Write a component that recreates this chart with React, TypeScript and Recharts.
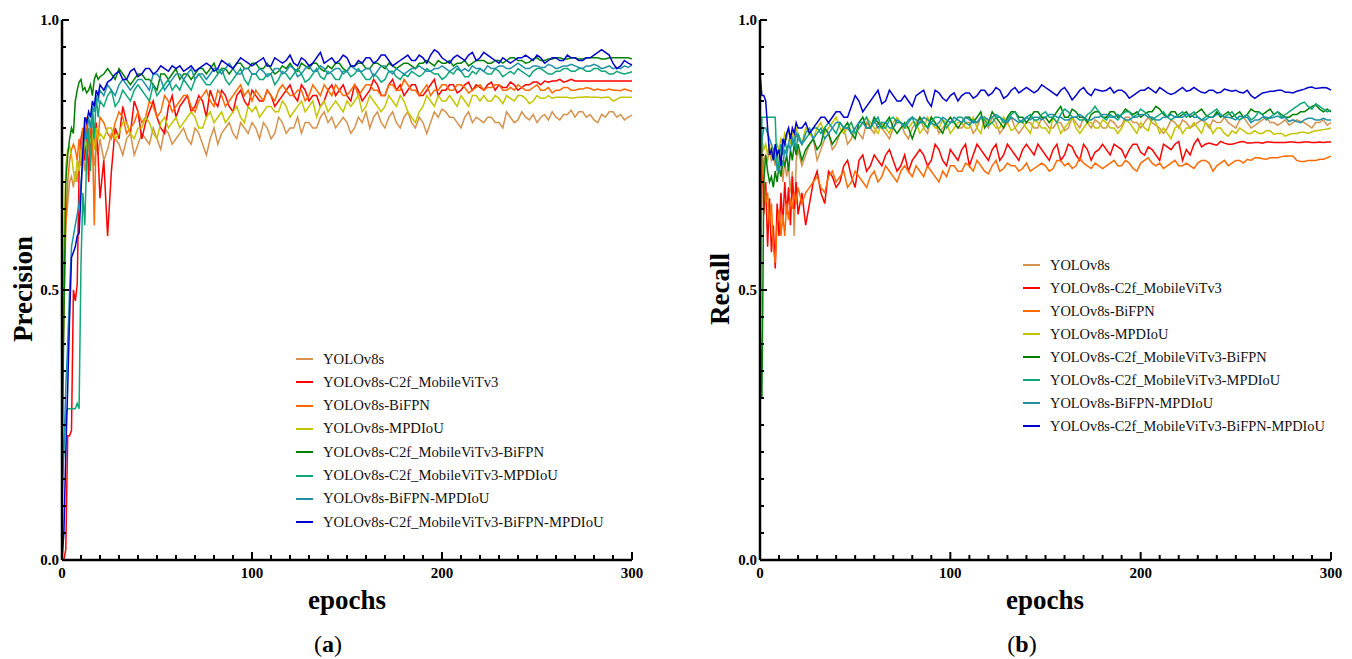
import { LineChart, Line, XAxis, YAxis } from "recharts";

const SERIF = "'Liberation Serif', 'Times New Roman', serif";

const epochs = [
  0, 1, 2, 3, 4, 5, 6, 7, 8, 9, 10, 11, 12, 13, 14, 15, 16, 17, 18, 19, 20,
  22, 24, 26, 28, 30, 32, 34, 36, 38, 40,
  42, 44, 46, 48, 50, 52, 54, 56, 58, 60,
  62, 64, 66, 68, 70, 72, 74, 76, 78, 80,
  82, 84, 86, 88, 90, 92, 94, 96, 98, 100,
  102, 104, 106, 108, 110, 112, 114, 116, 118, 120,
  122, 124, 126, 128, 130, 132, 134, 136, 138, 140,
  142, 144, 146, 148, 150, 152, 154, 156, 158, 160,
  162, 164, 166, 168, 170, 172, 174, 176, 178, 180,
  182, 184, 186, 188, 190, 192, 194, 196, 198, 200,
  202, 204, 206, 208, 210, 212, 214, 216, 218, 220,
  222, 224, 226, 228, 230, 232, 234, 236, 238, 240,
  242, 244, 246, 248, 250, 252, 254, 256, 258, 260,
  262, 264, 266, 268, 270, 272, 274, 276, 278, 280,
  282, 284, 286, 288, 290, 292, 294, 296, 298, 300,
];

const names = [
  "YOLOv8s",
  "YOLOv8s-C2f_MobileViTv3",
  "YOLOv8s-BiFPN",
  "YOLOv8s-MPDIoU",
  "YOLOv8s-C2f_MobileViTv3-BiFPN",
  "YOLOv8s-C2f_MobileViTv3-MPDIoU",
  "YOLOv8s-BiFPN-MPDIoU",
  "YOLOv8s-C2f_MobileViTv3-BiFPN-MPDIoU",
];

const colors = ["#d4924e", "#ff0000", "#ff6a00", "#c4c400", "#008000", "#10a67a", "#2090a8", "#0000cc"];

// precision (a)
const pV8s = [
  0.38, 0.55, 0.62, 0.66, 0.70, 0.71, 0.69, 0.72, 0.70, 0.74, 0.73, 0.76, 0.72, 0.75, 0.77, 0.74, 0.76, 0.73, 0.77, 0.75, 0.78,
  0.74, 0.76, 0.79, 0.78, 0.77, 0.75, 0.78, 0.79, 0.75, 0.77,
  0.79, 0.78, 0.77, 0.80, 0.78, 0.76, 0.80, 0.79, 0.77, 0.78,
  0.79, 0.80, 0.78, 0.77, 0.80, 0.79, 0.77, 0.75, 0.78, 0.80,
  0.77, 0.79, 0.80, 0.81, 0.79, 0.78, 0.81, 0.80, 0.79, 0.81,
  0.80, 0.78, 0.81, 0.80, 0.78, 0.79, 0.82, 0.81, 0.79, 0.80,
  0.80, 0.82, 0.79, 0.81, 0.81, 0.80, 0.80, 0.82, 0.83, 0.81,
  0.82, 0.80, 0.81, 0.82, 0.81, 0.79, 0.80, 0.82, 0.81, 0.83,
  0.80, 0.82, 0.83, 0.81, 0.80, 0.82, 0.83, 0.81, 0.80, 0.82,
  0.83, 0.81, 0.80, 0.82, 0.81, 0.79, 0.81, 0.83, 0.82, 0.835,
  0.83, 0.82, 0.82, 0.81, 0.80, 0.82, 0.83, 0.81, 0.82, 0.815,
  0.81, 0.82, 0.82, 0.81, 0.81, 0.80, 0.83, 0.82, 0.81, 0.815,
  0.83, 0.82, 0.815, 0.825, 0.81, 0.82, 0.825, 0.815, 0.83, 0.82,
  0.815, 0.825, 0.825, 0.833, 0.82, 0.83, 0.83, 0.82, 0.825, 0.815,
  0.81, 0.825, 0.82, 0.83, 0.83, 0.82, 0.825, 0.815, 0.82, 0.824,
];
const pC2f = [
  0, 0, 0.02, 0.23, 0.23, 0.24, 0.50, 0.48, 0.51, 0.72, 0.78, 0.80, 0.74, 0.82, 0.70, 0.79, 0.83, 0.77, 0.81, 0.75, 0.67,
  0.74, 0.60, 0.72, 0.80, 0.78, 0.84, 0.81, 0.79, 0.85, 0.83,
  0.78, 0.81, 0.83, 0.85, 0.82, 0.80, 0.79, 0.84, 0.86, 0.82,
  0.84, 0.85, 0.86, 0.83, 0.84, 0.86, 0.85, 0.82, 0.87, 0.85,
  0.84, 0.87, 0.86, 0.84, 0.83, 0.86, 0.87, 0.85, 0.84, 0.87,
  0.86, 0.85, 0.85, 0.87, 0.86, 0.84, 0.85, 0.86, 0.87, 0.88,
  0.86, 0.85, 0.88, 0.87, 0.85, 0.86, 0.86, 0.84, 0.85, 0.87,
  0.88, 0.86, 0.87, 0.88, 0.86, 0.85, 0.88, 0.87, 0.85, 0.86,
  0.87, 0.89, 0.88, 0.86, 0.86, 0.88, 0.89, 0.87, 0.88, 0.86,
  0.87, 0.88, 0.88, 0.86, 0.86, 0.87, 0.88, 0.89, 0.86, 0.87,
  0.87, 0.88, 0.88, 0.865, 0.87, 0.88, 0.885, 0.87, 0.88, 0.875,
  0.87, 0.88, 0.885, 0.87, 0.88, 0.875, 0.875, 0.885, 0.88, 0.87,
  0.875, 0.88, 0.88, 0.885, 0.885, 0.88, 0.887, 0.885, 0.887, 0.887,
  0.89, 0.885, 0.887, 0.89, 0.887, 0.887, 0.887, 0.887, 0.887, 0.887,
  0.887, 0.887, 0.887, 0.887, 0.887, 0.887, 0.887, 0.887, 0.887, 0.887,
];
const pBi = [
  0.30, 0.45, 0.62, 0.70, 0.74, 0.76, 0.77, 0.76, 0.74, 0.78, 0.75, 0.80, 0.78, 0.82, 0.76, 0.81, 0.79, 0.62, 0.80, 0.78, 0.82,
  0.81, 0.79, 0.78, 0.81, 0.83, 0.82, 0.79, 0.80, 0.81, 0.83,
  0.81, 0.82, 0.85, 0.84, 0.82, 0.83, 0.86, 0.85, 0.83, 0.84,
  0.85, 0.86, 0.86, 0.84, 0.83, 0.85, 0.86, 0.87, 0.85, 0.84,
  0.87, 0.86, 0.84, 0.85, 0.86, 0.87, 0.88, 0.86, 0.87, 0.85,
  0.87, 0.86, 0.85, 0.87, 0.86, 0.85, 0.87, 0.88, 0.87, 0.86,
  0.86, 0.87, 0.87, 0.85, 0.86, 0.88, 0.87, 0.86, 0.88, 0.87,
  0.86, 0.88, 0.87, 0.86, 0.86, 0.87, 0.88, 0.86, 0.87, 0.88,
  0.88, 0.87, 0.87, 0.86, 0.86, 0.88, 0.88, 0.87, 0.87, 0.89,
  0.88, 0.87, 0.87, 0.86, 0.87, 0.88, 0.86, 0.87, 0.87, 0.88,
  0.88, 0.87, 0.87, 0.88, 0.88, 0.875, 0.865, 0.87, 0.875, 0.88,
  0.87, 0.875, 0.875, 0.88, 0.88, 0.87, 0.87, 0.875, 0.87, 0.88,
  0.875, 0.87, 0.87, 0.875, 0.88, 0.87, 0.87, 0.875, 0.865, 0.87,
  0.87, 0.875, 0.875, 0.87, 0.87, 0.872, 0.872, 0.875, 0.873, 0.87,
  0.872, 0.87, 0.87, 0.872, 0.87, 0.87, 0.869, 0.872, 0.87, 0.868,
];
const pMpd = [
  0.35, 0.56, 0.73, 0.76, 0.765, 0.75, 0.72, 0.70, 0.74, 0.72, 0.76, 0.74, 0.78, 0.76, 0.80, 0.77, 0.79, 0.76, 0.80, 0.78, 0.79,
  0.78, 0.80, 0.80, 0.78, 0.79, 0.81, 0.81, 0.79, 0.78, 0.80,
  0.80, 0.82, 0.81, 0.79, 0.78, 0.81, 0.82, 0.80, 0.81, 0.82,
  0.80, 0.81, 0.82, 0.83, 0.82, 0.80, 0.80, 0.82, 0.83, 0.81,
  0.82, 0.83, 0.81, 0.82, 0.83, 0.84, 0.82, 0.81, 0.84, 0.83,
  0.84, 0.82, 0.83, 0.84, 0.84, 0.83, 0.83, 0.85, 0.84, 0.82,
  0.83, 0.84, 0.85, 0.83, 0.84, 0.85, 0.82, 0.84, 0.85, 0.83,
  0.84, 0.85, 0.84, 0.83, 0.85, 0.84, 0.85, 0.86, 0.83, 0.84,
  0.86, 0.85, 0.84, 0.83, 0.84, 0.86, 0.85, 0.84, 0.86, 0.85,
  0.83, 0.82, 0.81, 0.83, 0.84, 0.86, 0.85, 0.84, 0.86, 0.85,
  0.85, 0.86, 0.85, 0.84, 0.86, 0.85, 0.84, 0.86, 0.86, 0.85,
  0.86, 0.85, 0.85, 0.86, 0.855, 0.845, 0.86, 0.855, 0.85, 0.86,
  0.86, 0.855, 0.845, 0.85, 0.86, 0.855, 0.855, 0.86, 0.855, 0.857,
  0.857, 0.857, 0.857, 0.855, 0.856, 0.857, 0.857, 0.858, 0.857, 0.857,
  0.857, 0.856, 0.857, 0.857, 0.85, 0.853, 0.857, 0.857, 0.857, 0.857,
];
const pC2fBi = [
  0.17, 0.45, 0.70, 0.75, 0.78, 0.80, 0.79, 0.85, 0.87, 0.885, 0.89, 0.87, 0.875, 0.865, 0.87, 0.88, 0.86, 0.89, 0.90, 0.89, 0.895,
  0.90, 0.91, 0.90, 0.89, 0.91, 0.90, 0.89, 0.88, 0.89, 0.90,
  0.90, 0.89, 0.89, 0.88, 0.87, 0.90, 0.90, 0.89, 0.90, 0.91,
  0.89, 0.90, 0.90, 0.89, 0.90, 0.91, 0.91, 0.90, 0.91, 0.92,
  0.90, 0.91, 0.91, 0.90, 0.91, 0.92, 0.92, 0.91, 0.91, 0.92,
  0.92, 0.91, 0.91, 0.92, 0.91, 0.90, 0.905, 0.915, 0.91, 0.92,
  0.91, 0.905, 0.92, 0.915, 0.91, 0.92, 0.92, 0.91, 0.905, 0.915,
  0.91, 0.92, 0.92, 0.91, 0.905, 0.915, 0.915, 0.92, 0.92, 0.91,
  0.91, 0.92, 0.92, 0.915, 0.91, 0.92, 0.915, 0.91, 0.915, 0.92,
  0.92, 0.915, 0.91, 0.92, 0.92, 0.925, 0.92, 0.915, 0.925, 0.92,
  0.92, 0.925, 0.915, 0.92, 0.92, 0.925, 0.915, 0.92, 0.925, 0.925,
  0.925, 0.92, 0.92, 0.925, 0.925, 0.92, 0.925, 0.93, 0.93, 0.925,
  0.925, 0.92, 0.922, 0.928, 0.93, 0.925, 0.925, 0.928, 0.928, 0.93,
  0.93, 0.928, 0.928, 0.93, 0.93, 0.928, 0.928, 0.93, 0.93, 0.93,
  0.93, 0.928, 0.928, 0.93, 0.93, 0.93, 0.93, 0.93, 0.93, 0.928,
];
const pC2fMpd = [
  0.10, 0.22, 0.27, 0.28, 0.28, 0.28, 0.28, 0.28, 0.29, 0.28, 0.55, 0.68, 0.62, 0.75, 0.80, 0.72, 0.84, 0.78, 0.86, 0.82, 0.85,
  0.84, 0.86, 0.87, 0.84, 0.85, 0.87, 0.86, 0.85, 0.87, 0.88,
  0.87, 0.86, 0.85, 0.88, 0.86, 0.87, 0.88, 0.89, 0.87, 0.88,
  0.87, 0.89, 0.88, 0.87, 0.89, 0.90, 0.89, 0.88, 0.88, 0.89,
  0.90, 0.91, 0.89, 0.88, 0.89, 0.90, 0.91, 0.89, 0.88, 0.90,
  0.90, 0.89, 0.89, 0.90, 0.90, 0.88, 0.89, 0.905, 0.90, 0.89,
  0.90, 0.91, 0.90, 0.885, 0.89, 0.90, 0.91, 0.895, 0.89, 0.905,
  0.90, 0.89, 0.89, 0.905, 0.905, 0.895, 0.90, 0.91, 0.90, 0.89,
  0.89, 0.90, 0.895, 0.885, 0.89, 0.905, 0.905, 0.895, 0.89, 0.90,
  0.895, 0.905, 0.90, 0.895, 0.90, 0.91, 0.905, 0.90, 0.90, 0.89,
  0.895, 0.905, 0.90, 0.91, 0.905, 0.895, 0.895, 0.905, 0.90, 0.91,
  0.905, 0.90, 0.90, 0.91, 0.905, 0.895, 0.90, 0.905, 0.90, 0.91,
  0.905, 0.90, 0.895, 0.905, 0.91, 0.91, 0.905, 0.90, 0.90, 0.905,
  0.905, 0.91, 0.91, 0.905, 0.905, 0.91, 0.91, 0.905, 0.905, 0.91,
  0.91, 0.905, 0.905, 0.90, 0.90, 0.905, 0.902, 0.90, 0.902, 0.904,
];
const pBiMpd = [
  0.15, 0.20, 0.32, 0.40, 0.50, 0.58, 0.60, 0.62, 0.64, 0.66, 0.70, 0.74, 0.80, 0.78, 0.82, 0.80, 0.84, 0.83, 0.86, 0.85, 0.87,
  0.86, 0.88, 0.87, 0.86, 0.88, 0.89, 0.88, 0.87, 0.88, 0.89,
  0.89, 0.88, 0.87, 0.90, 0.90, 0.89, 0.87, 0.88, 0.89, 0.90,
  0.90, 0.89, 0.90, 0.91, 0.89, 0.90, 0.90, 0.89, 0.90, 0.91,
  0.91, 0.90, 0.91, 0.92, 0.91, 0.90, 0.90, 0.91, 0.91, 0.90,
  0.90, 0.91, 0.905, 0.895, 0.90, 0.91, 0.91, 0.90, 0.905, 0.915,
  0.91, 0.895, 0.90, 0.91, 0.915, 0.905, 0.905, 0.915, 0.91, 0.90,
  0.905, 0.91, 0.91, 0.90, 0.905, 0.915, 0.91, 0.905, 0.905, 0.91,
  0.91, 0.895, 0.905, 0.915, 0.915, 0.905, 0.90, 0.91, 0.905, 0.90,
  0.905, 0.91, 0.91, 0.915, 0.91, 0.905, 0.905, 0.91, 0.91, 0.915,
  0.91, 0.905, 0.91, 0.915, 0.905, 0.91, 0.905, 0.915, 0.91, 0.91,
  0.905, 0.915, 0.91, 0.91, 0.915, 0.915, 0.91, 0.91, 0.915, 0.92,
  0.915, 0.91, 0.91, 0.915, 0.915, 0.912, 0.912, 0.918, 0.915, 0.91,
  0.912, 0.915, 0.915, 0.918, 0.915, 0.912, 0.91, 0.915, 0.915, 0.918,
  0.915, 0.91, 0.912, 0.915, 0.91, 0.912, 0.91, 0.915, 0.912, 0.917,
];
const pFull = [
  0, 0.05, 0.20, 0.32, 0.45, 0.56, 0.57, 0.58, 0.60, 0.605, 0.68, 0.76, 0.82, 0.81, 0.83, 0.82, 0.85, 0.84, 0.87, 0.86, 0.88,
  0.87, 0.885, 0.89, 0.90, 0.905, 0.89, 0.89, 0.905, 0.91, 0.895,
  0.90, 0.91, 0.91, 0.90, 0.905, 0.915, 0.91, 0.905, 0.915, 0.91,
  0.915, 0.905, 0.91, 0.915, 0.905, 0.91, 0.915, 0.92, 0.915, 0.905,
  0.91, 0.925, 0.92, 0.915, 0.91, 0.92, 0.93, 0.925, 0.92, 0.915,
  0.92, 0.925, 0.93, 0.915, 0.915, 0.93, 0.925, 0.92, 0.925, 0.935,
  0.92, 0.915, 0.93, 0.925, 0.915, 0.92, 0.93, 0.94, 0.92, 0.925,
  0.93, 0.92, 0.925, 0.935, 0.93, 0.915, 0.915, 0.925, 0.92, 0.93,
  0.93, 0.92, 0.925, 0.935, 0.935, 0.925, 0.915, 0.92, 0.925, 0.93,
  0.935, 0.925, 0.925, 0.935, 0.93, 0.92, 0.935, 0.945, 0.94, 0.93,
  0.925, 0.92, 0.93, 0.935, 0.93, 0.925, 0.935, 0.94, 0.925, 0.93,
  0.94, 0.935, 0.93, 0.925, 0.92, 0.93, 0.925, 0.92, 0.925, 0.93,
  0.93, 0.935, 0.93, 0.925, 0.935, 0.93, 0.92, 0.925, 0.93, 0.93,
  0.925, 0.925, 0.935, 0.93, 0.93, 0.925, 0.925, 0.93, 0.93, 0.935,
  0.94, 0.945, 0.94, 0.935, 0.92, 0.91, 0.915, 0.925, 0.92, 0.917,
];

// recall (b)
const rV8s = [
  0.66, 0.70, 0.74, 0.75, 0.74, 0.76, 0.74, 0.75, 0.73, 0.76, 0.72, 0.75, 0.70, 0.74, 0.71, 0.73, 0.68, 0.72, 0.60, 0.74, 0.76,
  0.73, 0.75, 0.77, 0.78, 0.74, 0.76, 0.78, 0.79, 0.76, 0.77,
  0.79, 0.80, 0.77, 0.78, 0.80, 0.79, 0.78, 0.81, 0.80, 0.79,
  0.81, 0.80, 0.79, 0.78, 0.80, 0.81, 0.81, 0.79, 0.78, 0.80,
  0.81, 0.82, 0.80, 0.79, 0.82, 0.81, 0.79, 0.80, 0.81, 0.82,
  0.81, 0.80, 0.80, 0.81, 0.81, 0.79, 0.80, 0.82, 0.81, 0.80,
  0.82, 0.81, 0.79, 0.80, 0.81, 0.82, 0.80, 0.79, 0.80, 0.81,
  0.81, 0.80, 0.80, 0.82, 0.81, 0.80, 0.80, 0.81, 0.81, 0.795,
  0.80, 0.82, 0.81, 0.80, 0.82, 0.81, 0.80, 0.815, 0.81, 0.80,
  0.80, 0.815, 0.81, 0.80, 0.805, 0.82, 0.82, 0.81, 0.81, 0.80,
  0.81, 0.82, 0.81, 0.805, 0.80, 0.79, 0.80, 0.815, 0.81, 0.80,
  0.815, 0.81, 0.80, 0.805, 0.81, 0.815, 0.81, 0.80, 0.815, 0.81,
  0.81, 0.82, 0.81, 0.805, 0.80, 0.815, 0.82, 0.81, 0.80, 0.805,
  0.81, 0.815, 0.82, 0.81, 0.81, 0.805, 0.81, 0.815, 0.805, 0.81,
  0.815, 0.812, 0.81, 0.805, 0.80, 0.81, 0.81, 0.815, 0.805, 0.81,
];
const rC2f = [
  0.50, 0.79, 0.64, 0.70, 0.58, 0.67, 0.57, 0.62, 0.54, 0.66, 0.60, 0.68, 0.62, 0.70, 0.64, 0.69, 0.62, 0.71, 0.65, 0.70, 0.64,
  0.68, 0.62, 0.66, 0.70, 0.72, 0.68, 0.66, 0.72, 0.71, 0.69,
  0.70, 0.73, 0.74, 0.71, 0.69, 0.74, 0.75, 0.72, 0.73, 0.75,
  0.74, 0.73, 0.75, 0.76, 0.74, 0.72, 0.73, 0.75, 0.72, 0.74,
  0.75, 0.76, 0.75, 0.73, 0.74, 0.77, 0.76, 0.74, 0.73, 0.76,
  0.75, 0.74, 0.76, 0.77, 0.73, 0.75, 0.77, 0.76, 0.75, 0.74,
  0.76, 0.77, 0.74, 0.75, 0.77, 0.76, 0.75, 0.74, 0.76, 0.77,
  0.76, 0.75, 0.77, 0.76, 0.75, 0.74, 0.76, 0.77, 0.74, 0.75,
  0.77, 0.765, 0.75, 0.74, 0.77, 0.76, 0.74, 0.755, 0.76, 0.77,
  0.76, 0.75, 0.77, 0.765, 0.76, 0.745, 0.76, 0.77, 0.77, 0.755,
  0.75, 0.765, 0.76, 0.75, 0.74, 0.77, 0.765, 0.76, 0.77, 0.775,
  0.74, 0.76, 0.75, 0.77, 0.78, 0.765, 0.77, 0.772, 0.77, 0.768,
  0.775, 0.772, 0.77, 0.77, 0.772, 0.774, 0.775, 0.772, 0.772, 0.773,
  0.773, 0.772, 0.774, 0.774, 0.773, 0.773, 0.773, 0.773, 0.774, 0.774,
  0.773, 0.773, 0.774, 0.774, 0.773, 0.773, 0.774, 0.773, 0.774, 0.774,
];
const rBi = [
  0.35, 0.76, 0.70, 0.66, 0.68, 0.62, 0.66, 0.58, 0.55, 0.62, 0.65, 0.60, 0.64, 0.60, 0.66, 0.63, 0.67, 0.65, 0.68, 0.66, 0.69,
  0.66, 0.68, 0.69, 0.70, 0.71, 0.69, 0.68, 0.71, 0.72, 0.70,
  0.71, 0.72, 0.69, 0.70, 0.72, 0.71, 0.70, 0.69, 0.71, 0.72,
  0.70, 0.71, 0.73, 0.72, 0.71, 0.70, 0.72, 0.73, 0.72, 0.71,
  0.73, 0.72, 0.71, 0.73, 0.72, 0.71, 0.70, 0.72, 0.71, 0.73,
  0.73, 0.72, 0.72, 0.735, 0.73, 0.72, 0.74, 0.73, 0.72, 0.715,
  0.73, 0.74, 0.72, 0.725, 0.735, 0.73, 0.73, 0.72, 0.725, 0.735,
  0.72, 0.725, 0.73, 0.735, 0.73, 0.72, 0.725, 0.74, 0.74, 0.73,
  0.735, 0.725, 0.73, 0.745, 0.735, 0.73, 0.725, 0.735, 0.73, 0.725,
  0.73, 0.735, 0.74, 0.73, 0.73, 0.74, 0.735, 0.725, 0.72, 0.735,
  0.74, 0.745, 0.735, 0.73, 0.735, 0.725, 0.73, 0.735, 0.74, 0.73,
  0.73, 0.735, 0.73, 0.725, 0.735, 0.74, 0.74, 0.735, 0.72, 0.73,
  0.735, 0.74, 0.73, 0.735, 0.74, 0.74, 0.735, 0.742, 0.74, 0.745,
  0.745, 0.743, 0.742, 0.745, 0.745, 0.745, 0.747, 0.748, 0.748, 0.748,
  0.74, 0.738, 0.738, 0.74, 0.74, 0.74, 0.742, 0.742, 0.745, 0.748,
];
const rMpd = [
  0.62, 0.78, 0.76, 0.77, 0.75, 0.77, 0.74, 0.76, 0.75, 0.77, 0.76, 0.78, 0.77, 0.79, 0.78, 0.80, 0.77, 0.79, 0.78, 0.80, 0.79,
  0.77, 0.80, 0.79, 0.78, 0.80, 0.81, 0.79, 0.80, 0.81, 0.82,
  0.80, 0.79, 0.80, 0.81, 0.79, 0.80, 0.81, 0.82, 0.81, 0.80,
  0.79, 0.81, 0.80, 0.79, 0.81, 0.82, 0.81, 0.80, 0.80, 0.81,
  0.81, 0.79, 0.80, 0.82, 0.81, 0.80, 0.80, 0.815, 0.81, 0.79,
  0.80, 0.81, 0.81, 0.80, 0.80, 0.82, 0.80, 0.79, 0.82, 0.81,
  0.81, 0.80, 0.80, 0.82, 0.81, 0.795, 0.80, 0.81, 0.81, 0.80,
  0.79, 0.815, 0.81, 0.80, 0.80, 0.79, 0.82, 0.81, 0.79, 0.80,
  0.81, 0.82, 0.80, 0.79, 0.80, 0.81, 0.81, 0.80, 0.80, 0.815,
  0.81, 0.80, 0.80, 0.79, 0.80, 0.815, 0.81, 0.80, 0.79, 0.81,
  0.80, 0.795, 0.82, 0.81, 0.79, 0.80, 0.79, 0.78, 0.80, 0.805,
  0.79, 0.80, 0.80, 0.81, 0.80, 0.79, 0.81, 0.805, 0.79, 0.80,
  0.80, 0.79, 0.785, 0.795, 0.79, 0.80, 0.795, 0.79, 0.79, 0.795,
  0.79, 0.79, 0.795, 0.795, 0.788, 0.79, 0.79, 0.785, 0.788, 0.79,
  0.79, 0.792, 0.792, 0.79, 0.793, 0.795, 0.796, 0.797, 0.798, 0.80,
];
const rC2fBi = [
  0.45, 0.30, 0.70, 0.75, 0.72, 0.70, 0.71, 0.69, 0.72, 0.70, 0.73, 0.71, 0.74, 0.73, 0.75, 0.72, 0.76, 0.74, 0.77, 0.75, 0.77,
  0.74, 0.76, 0.77, 0.78, 0.76, 0.77, 0.80, 0.79, 0.77, 0.78,
  0.79, 0.80, 0.81, 0.79, 0.78, 0.81, 0.82, 0.80, 0.80, 0.82,
  0.81, 0.80, 0.81, 0.82, 0.80, 0.79, 0.80, 0.81, 0.80, 0.78,
  0.80, 0.82, 0.81, 0.80, 0.82, 0.81, 0.80, 0.79, 0.81, 0.82,
  0.81, 0.80, 0.81, 0.82, 0.82, 0.81, 0.82, 0.83, 0.80, 0.81,
  0.83, 0.82, 0.81, 0.80, 0.82, 0.83, 0.83, 0.82, 0.82, 0.81,
  0.82, 0.83, 0.83, 0.82, 0.82, 0.81, 0.82, 0.83, 0.84, 0.82,
  0.82, 0.835, 0.83, 0.82, 0.82, 0.81, 0.825, 0.83, 0.83, 0.82,
  0.82, 0.83, 0.83, 0.82, 0.825, 0.835, 0.83, 0.825, 0.83, 0.82,
  0.825, 0.83, 0.83, 0.84, 0.835, 0.825, 0.82, 0.83, 0.83, 0.82,
  0.825, 0.83, 0.82, 0.825, 0.83, 0.835, 0.825, 0.82, 0.82, 0.83,
  0.82, 0.825, 0.83, 0.82, 0.825, 0.83, 0.82, 0.825, 0.835, 0.83,
  0.83, 0.825, 0.83, 0.835, 0.825, 0.83, 0.825, 0.82, 0.82, 0.825,
  0.825, 0.83, 0.83, 0.835, 0.84, 0.843, 0.835, 0.83, 0.835, 0.83,
];
const rC2fMpd = [
  0.50, 0.82, 0.82, 0.82, 0.82, 0.82, 0.82, 0.82, 0.82, 0.72, 0.74, 0.77, 0.75, 0.78, 0.76, 0.77, 0.79, 0.77, 0.78, 0.76, 0.79,
  0.77, 0.78, 0.79, 0.80, 0.80, 0.79, 0.80, 0.81, 0.80, 0.79,
  0.81, 0.80, 0.80, 0.81, 0.79, 0.80, 0.81, 0.82, 0.80, 0.81,
  0.82, 0.80, 0.80, 0.815, 0.82, 0.81, 0.81, 0.80, 0.81, 0.82,
  0.80, 0.81, 0.81, 0.80, 0.81, 0.82, 0.82, 0.815, 0.80, 0.81,
  0.81, 0.82, 0.82, 0.81, 0.805, 0.815, 0.81, 0.82, 0.815, 0.805,
  0.81, 0.82, 0.82, 0.81, 0.815, 0.825, 0.83, 0.815, 0.81, 0.82,
  0.825, 0.815, 0.815, 0.825, 0.83, 0.82, 0.82, 0.81, 0.825, 0.835,
  0.83, 0.82, 0.82, 0.815, 0.815, 0.825, 0.83, 0.84, 0.83, 0.82,
  0.815, 0.825, 0.82, 0.815, 0.825, 0.83, 0.83, 0.82, 0.825, 0.835,
  0.83, 0.825, 0.815, 0.82, 0.825, 0.83, 0.82, 0.815, 0.82, 0.825,
  0.83, 0.82, 0.825, 0.83, 0.82, 0.815, 0.82, 0.825, 0.83, 0.835,
  0.825, 0.82, 0.825, 0.83, 0.82, 0.815, 0.82, 0.825, 0.815, 0.82,
  0.83, 0.825, 0.815, 0.82, 0.825, 0.83, 0.82, 0.825, 0.83, 0.835,
  0.84, 0.845, 0.848, 0.84, 0.835, 0.845, 0.84, 0.835, 0.83, 0.833,
];
const rBiMpd = [
  0.60, 0.78, 0.80, 0.80, 0.79, 0.78, 0.77, 0.76, 0.74, 0.73, 0.72, 0.74, 0.73, 0.76, 0.75, 0.77, 0.76, 0.78, 0.77, 0.79, 0.78,
  0.77, 0.79, 0.80, 0.78, 0.79, 0.80, 0.78, 0.79, 0.80, 0.81,
  0.81, 0.80, 0.80, 0.79, 0.80, 0.81, 0.81, 0.80, 0.80, 0.815,
  0.80, 0.81, 0.81, 0.80, 0.80, 0.815, 0.81, 0.805, 0.815, 0.82,
  0.815, 0.81, 0.82, 0.815, 0.81, 0.805, 0.81, 0.82, 0.815, 0.81,
  0.82, 0.815, 0.81, 0.82, 0.815, 0.81, 0.81, 0.82, 0.82, 0.815,
  0.82, 0.825, 0.82, 0.815, 0.81, 0.82, 0.815, 0.81, 0.815, 0.82,
  0.815, 0.82, 0.82, 0.815, 0.82, 0.825, 0.825, 0.82, 0.82, 0.815,
  0.815, 0.82, 0.82, 0.825, 0.82, 0.815, 0.815, 0.82, 0.82, 0.825,
  0.825, 0.82, 0.82, 0.825, 0.82, 0.815, 0.815, 0.82, 0.82, 0.825,
  0.825, 0.82, 0.82, 0.815, 0.815, 0.82, 0.82, 0.825, 0.82, 0.82,
  0.82, 0.825, 0.825, 0.82, 0.82, 0.815, 0.815, 0.82, 0.82, 0.825,
  0.825, 0.82, 0.82, 0.818, 0.815, 0.822, 0.82, 0.82, 0.81, 0.815,
  0.815, 0.82, 0.82, 0.818, 0.82, 0.822, 0.818, 0.82, 0.812, 0.815,
  0.812, 0.81, 0.815, 0.818, 0.818, 0.815, 0.815, 0.818, 0.815, 0.815,
];
const rFull = [
  0.90, 0.86, 0.86, 0.85, 0.80, 0.75, 0.76, 0.74, 0.77, 0.75, 0.76, 0.73, 0.78, 0.77, 0.79, 0.80, 0.78, 0.80, 0.79, 0.81, 0.80,
  0.80, 0.81, 0.79, 0.80, 0.81, 0.82, 0.82, 0.81, 0.82, 0.83,
  0.83, 0.82, 0.82, 0.84, 0.86, 0.85, 0.83, 0.84, 0.85, 0.86,
  0.87, 0.845, 0.85, 0.87, 0.86, 0.85, 0.85, 0.86, 0.85, 0.84,
  0.86, 0.865, 0.87, 0.85, 0.84, 0.87, 0.865, 0.855, 0.85, 0.86,
  0.865, 0.85, 0.86, 0.865, 0.865, 0.855, 0.86, 0.87, 0.87, 0.86,
  0.865, 0.875, 0.87, 0.855, 0.86, 0.87, 0.875, 0.865, 0.87, 0.875,
  0.87, 0.865, 0.87, 0.88, 0.875, 0.87, 0.865, 0.86, 0.87, 0.875,
  0.865, 0.852, 0.86, 0.87, 0.875, 0.865, 0.86, 0.872, 0.87, 0.868,
  0.87, 0.875, 0.865, 0.87, 0.87, 0.865, 0.855, 0.86, 0.865, 0.87,
  0.87, 0.875, 0.87, 0.865, 0.875, 0.87, 0.865, 0.862, 0.865, 0.87,
  0.875, 0.868, 0.87, 0.875, 0.87, 0.866, 0.865, 0.87, 0.87, 0.865,
  0.866, 0.872, 0.87, 0.868, 0.87, 0.866, 0.865, 0.87, 0.86, 0.855,
  0.86, 0.865, 0.866, 0.868, 0.868, 0.87, 0.87, 0.866, 0.866, 0.865,
  0.868, 0.87, 0.872, 0.875, 0.876, 0.873, 0.874, 0.875, 0.874, 0.87,
];

const xTicks = [0, 10, 20, 30, 40, 50, 60, 70, 80, 90, 100, 110, 120, 130, 140, 150, 160, 170, 180, 190, 200, 210, 220, 230, 240, 250, 260, 270, 280, 290, 300];
const yTicks = [0, 0.05, 0.1, 0.15, 0.2, 0.25, 0.3, 0.35, 0.4, 0.45, 0.5, 0.55, 0.6, 0.65, 0.7, 0.75, 0.8, 0.85, 0.9, 0.95, 1];

function toRows(series: number[][]) {
  return epochs.map((epoch, i) => {
    const row: Record<string, number> = { epoch };
    series.forEach((s, k) => {
      row[`s${k}`] = s[i];
    });
    return row;
  });
}

const precisionRows = toRows([pV8s, pC2f, pBi, pMpd, pC2fBi, pC2fMpd, pBiMpd, pFull]);
const recallRows = toRows([rV8s, rC2f, rBi, rMpd, rC2fBi, rC2fMpd, rBiMpd, rFull]);

function XTick(props: any) {
  const { x, y, payload } = props;
  const v = payload.value as number;
  const major = v % 100 === 0;
  return (
    <g>
      <line x1={x} x2={x} y1={y} y2={y - (major ? 8 : 5)} stroke="#000" strokeWidth={2} />
      {major && (
        <text x={x} y={y + 18} textAnchor="middle" fontFamily={SERIF} fontWeight={700} fontSize={15} fill="#000">
          {v}
        </text>
      )}
    </g>
  );
}

function YTick(props: any) {
  const { x, y, payload } = props;
  const v = payload.value as number;
  const major = Math.abs(v * 2 - Math.round(v * 2)) < 1e-6;
  return (
    <g>
      <line x1={x} x2={x + (major ? 7 : 4)} y1={y} y2={y} stroke="#000" strokeWidth={2} />
      {major && (
        <text x={x - 3} y={y + 5} textAnchor="end" fontFamily={SERIF} fontWeight={700} fontSize={15} fill="#000">
          {v.toFixed(1)}
        </text>
      )}
    </g>
  );
}

function Panel({ rows, marginLeft, marginRight }: { rows: Record<string, number>[]; marginLeft: number; marginRight: number }) {
  return (
    <LineChart
      width={676}
      height={659}
      data={rows}
      margin={{ top: 20, right: marginRight, bottom: 69, left: marginLeft }}
    >
      <XAxis
        type="number"
        dataKey="epoch"
        domain={[0, 300]}
        ticks={xTicks}
        interval={0}
        height={30}
        tickSize={0}
        tickMargin={0}
        tickLine={false}
        tick={(p: any) => <XTick {...p} />}
        axisLine={{ stroke: "#000", strokeWidth: 2.5 }}
      />
      <YAxis
        type="number"
        domain={[0, 1]}
        ticks={yTicks}
        interval={0}
        width={50}
        tickSize={0}
        tickMargin={0}
        tickLine={false}
        tick={(p: any) => <YTick {...p} />}
        axisLine={{ stroke: "#000", strokeWidth: 2.5 }}
      />
      {names.map((n, k) => (
        <Line
          key={n}
          type="linear"
          dataKey={`s${k}`}
          name={n}
          stroke={colors[k]}
          strokeWidth={1.5}
          dot={false}
          isAnimationActive={false}
        />
      ))}
    </LineChart>
  );
}

function LegendBox({ left, top, step, fontSize }: { left: number; top: number; step: number; fontSize: number }) {
  return (
    <div style={{ position: "absolute", left, top }}>
      {names.map((n, i) => (
        <div
          key={n}
          style={{
            position: "absolute",
            left: 0,
            top: i * step,
            height: 20,
            display: "flex",
            alignItems: "center",
            whiteSpace: "nowrap",
          }}
        >
          <span style={{ display: "inline-block", width: 17, height: 2, background: colors[i], marginRight: 10 }} />
          <span style={{ fontFamily: SERIF, fontSize, color: "#111" }}>{n}</span>
        </div>
      ))}
    </div>
  );
}

export default function App() {
  return (
    <div style={{ position: "absolute", left: 0, top: 0, width: 1352, height: 659, background: "#fff", overflow: "hidden" }}>
      <div style={{ position: "absolute", left: 0, top: 0 }}>
        <Panel rows={precisionRows} marginLeft={12} marginRight={44} />
      </div>
      <div style={{ position: "absolute", left: 676, top: 0 }}>
        <Panel rows={recallRows} marginLeft={34} marginRight={21} />
      </div>

      <LegendBox left={296} top={349} step={23.3} fontSize={14.7} />
      <LegendBox left={1023} top={255} step={23} fontSize={14.4} />

      <svg width={1352} height={659} style={{ position: "absolute", left: 0, top: 0, pointerEvents: "none" }}>
        <g fontFamily={SERIF} fontWeight={700} fontSize={27} fill="#000">
          <text x={23} y={289} transform="rotate(-90 23 289)" textAnchor="middle" dominantBaseline="central">
            Precision
          </text>
          <text x={720} y={289} transform="rotate(-90 720 289)" textAnchor="middle" dominantBaseline="central">
            Recall
          </text>
          <text x={347} y={609} textAnchor="middle">epochs</text>
          <text x={1045} y={609} textAnchor="middle">epochs</text>
        </g>
        <g fontFamily={SERIF} fontSize={24} fill="#000">
          <text x={328} y={652} textAnchor="middle">
            (<tspan fontWeight={700}>a</tspan>)
          </text>
          <text x={1022} y={652} textAnchor="middle">
            (<tspan fontWeight={700}>b</tspan>)
          </text>
        </g>
      </svg>
    </div>
  );
}
